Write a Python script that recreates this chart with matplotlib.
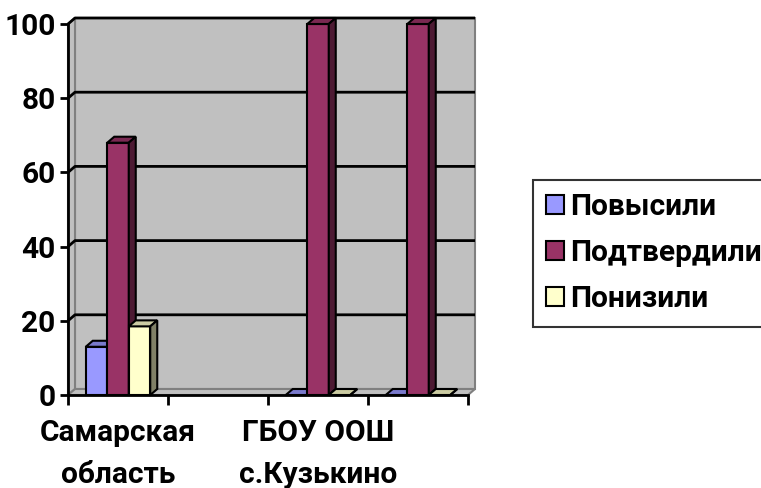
import numpy as np
import matplotlib.pyplot as plt
from matplotlib.patches import Polygon, Patch
import matplotlib.colors as mcolors

plt.rcParams['font.family'] = ['Roboto', 'DejaVu Sans']
plt.rcParams['font.weight'] = 'bold'

categories = ["Самарская\nобласть", "", "ГБОУ ООШ\nс.Кузькино", ""]
series = ["Повысили", "Подтвердили", "Понизили"]
povysili = [13, np.nan, 0, 0]
podtverdili = [68, np.nan, 100, 100]
ponizili = [18.5, np.nan, 0, 0]
colors = ["#9999FF", "#993366", "#FFFFCC"]

W, H = 761, 488
fig = plt.figure(figsize=(W / 100, H / 100), dpi=100)
# front frame of the 3d box, in pixels
x0, x1, y0, y1 = 68, 468, 395, 24
ax = fig.add_axes([x0 / W, 1 - y0 / H, (x1 - x0) / W, (y0 - y1) / H])
ax.set_xlim(-0.5, 3.5)
ax.set_ylim(0, 100)
ax.patch.set_visible(False)

# depth offset of 7px right and 6px up, in data units
dx = 7 / 100
dy = 6 / 3.71


def poly(pts, fc, ec="black", lw=1.5, z=2):
    ax.add_patch(Polygon(pts, closed=True, facecolor=fc, edgecolor=ec,
                         linewidth=lw, clip_on=False, zorder=z,
                         joinstyle="miter"))


wall = "#C0C0C0"
# back wall, left wall, floor
poly([(-0.5 + dx, dy), (3.5 + dx, dy), (3.5 + dx, 100 + dy), (-0.5 + dx, 100 + dy)],
     wall, ec="#808080", lw=1.5, z=0)
poly([(-0.5, 0), (-0.5 + dx, dy), (-0.5 + dx, 100 + dy), (-0.5, 100)],
     wall, ec="#808080", lw=1.5, z=0)
poly([(-0.5, 0), (3.5, 0), (3.5 + dx, dy), (-0.5 + dx, dy)],
     wall, ec="#808080", lw=1.5, z=0)

for g in [20, 40, 60, 80, 100]:
    ax.plot([-0.5, -0.5 + dx, 3.5 + dx], [g, g + dy, g + dy], color="black",
            lw=2, zorder=1, clip_on=False, solid_capstyle="butt")


def shade(c, f):
    r, g, b = mcolors.to_rgb(c)
    return (r * f, g * f, b * f)


w = 0.215
values = [povysili, podtverdili, ponizili]
for k in range(len(categories)):
    for i, vals in enumerate(values):
        v = vals[k]
        if np.isnan(v):
            continue
        c = colors[i]
        l = k + (i - 1.5) * w
        r = l + w
        poly([(l, 0), (r, 0), (r, v), (l, v)], c, z=3)
        poly([(l, v), (r, v), (r + dx, v + dy), (l + dx, v + dy)], shade(c, 0.8), z=3)
        poly([(r, 0), (r + dx, dy), (r + dx, v + dy), (r, v)], shade(c, 0.5), z=3)

for s in ["top", "right"]:
    ax.spines[s].set_visible(False)
for s in ["left", "bottom"]:
    ax.spines[s].set_linewidth(2)
    ax.spines[s].set_zorder(5)

fs = 21.5
ax.set_yticks([0, 20, 40, 60, 80, 100])
ax.set_yticklabels(["0", "20", "40", "60", "80", "100"], fontsize=fs, fontweight="bold")
ax.tick_params(axis="y", length=6, width=2, pad=3)
ax.set_xticks([-0.5, 0.5, 1.5, 2.5, 3.5])
ax.set_xticklabels([])
ax.tick_params(axis="x", which="major", length=7, width=2)
ax.set_xticks(range(len(categories)), minor=True)
ax.set_xticklabels(categories, minor=True, fontsize=fs, fontweight="bold",
                   linespacing=1.65)
ax.tick_params(axis="x", which="minor", length=0, pad=17)

handles = [Patch(facecolor=c, edgecolor="black", linewidth=1.5) for c in colors]
leg = fig.legend(handles, series, loc="upper left",
                 bbox_to_anchor=(533 / W, 1 - 180 / H), frameon=True,
                 fancybox=False, prop={"size": fs, "weight": "bold"},
                 handlelength=0.6, handleheight=0.6, handletextpad=0.2,
                 labelspacing=0.6, borderpad=0.45, borderaxespad=0)
leg.get_frame().set_edgecolor("black")
leg.get_frame().set_linewidth(1.5)

fig.savefig("out.png", dpi=100)
